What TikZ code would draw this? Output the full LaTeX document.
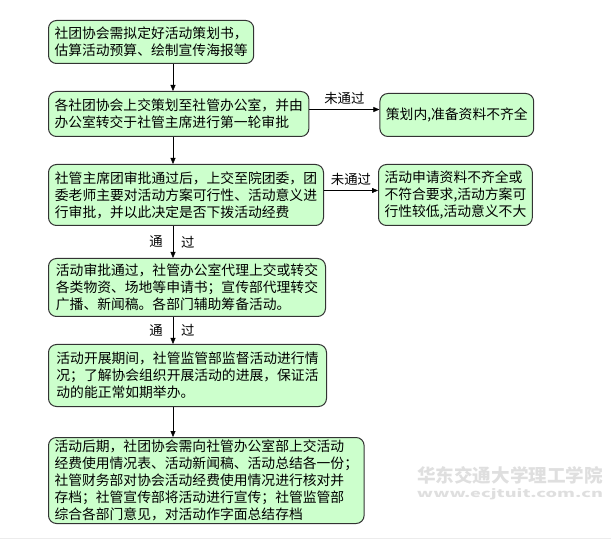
\documentclass[tikz,border=0pt]{standalone}
\usepackage{fontspec}
\setmainfont{Noto Sans CJK SC}
\usetikzlibrary{positioning}
\usetikzlibrary{arrows.meta}

\definecolor{boxgreen}{HTML}{CCFFCC}

\begin{document}
\begin{tikzpicture}[x=1pt, y=1pt,
    >={Triangle[length=6pt,width=5pt]},
    stepbox/.style={draw=black!80, line width=1pt, fill=boxgreen,
    rounded corners=8pt, align=left, inner xsep=6pt, inner ysep=1pt,
    font=\fontsize{13.8}{17}\selectfont},
    lbl/.style={inner sep=1pt, font=\fontsize{13.4}{16}\selectfont},
    wmark/.style={inner sep=0pt, text=gray!25, font=\bfseries},
    ]

    \useasboundingbox (0,0) rectangle (611,-540);

    % main column
    \node[stepbox, anchor=north west, minimum width=205pt, minimum height=43pt] (b1) at (48,-20)
        {社团协会需拟定好活动策划书，\\估算活动预算、绘制宣传海报等};
    \node[stepbox, below=27pt of b1.south west, anchor=north west, minimum width=259pt, minimum height=45pt] (b2)
        {各社团协会上交策划至社管办公室，并由\\办公室转交于社管主席进行第一轮审批};
    \node[stepbox, below=27pt of b2.south west, anchor=north west, minimum width=275pt, minimum height=61pt] (b5)
        {社管主席团审批通过后，上交至院团委，团\\委老师主要对活动方案可行性、活动意义进\\行审批，并以此决定是否下拨活动经费};
    \node[stepbox, below=32pt of b5.south west, anchor=north west, minimum width=277pt, minimum height=58pt] (b6)
        {活动审批通过，社管办公室代理上交或转交\\各类物资、场地等申请书；宣传部代理转交\\广播、新闻稿。各部门辅助筹备活动。};
    \node[stepbox, below=27pt of b6.south west, anchor=north west, minimum width=278pt, minimum height=62pt] (b7)
        {活动开展期间，社管监管部监督活动进行情\\况；了解协会组织开展活动的进展，保证活\\动的能正常如期举办。};
    \node[stepbox, below=30pt of b7.south west, anchor=north west, minimum width=307pt, minimum height=86pt] (b8)
        {活动后期，社团协会需向社管办公室部上交活动\\经费使用情况表、活动新闻稿、活动总结各一份；\\社管财务部对协会活动经费使用情况进行核对并\\存档；社管宣传部将活动进行宣传；社管监管部\\综合各部门意见，对活动作字面总结存档};

    % rejected branches
    \node[stepbox, right=70pt of b2.north east, anchor=north west, yshift=-2pt, minimum width=153pt, minimum height=43pt] (b3)
        {策划内,准备资料不齐全};
    \node[stepbox, right=54pt of b5.north east, anchor=north west, minimum width=153pt, minimum height=61pt] (b4)
        {活动申请资料不齐全或\\不符合要求,活动方案可\\行性较低,活动意义不大};

    \coordinate (axis) at (173,0);

    \draw[->] (b1.south -| axis) -- (b2.north -| axis);
    \draw[->] (b2.south -| axis) -- (b5.north -| axis);
    \draw[->] (b5.south -| axis) -- (b6.north -| axis)
        node[lbl, midway, left=9pt] {通} node[lbl, midway, right=7pt] {过};
    \draw[->] (b6.south -| axis) -- (b7.north -| axis)
        node[lbl, midway, left=9pt] {通} node[lbl, midway, right=7pt] {过};
    \draw[->] (b7.south -| axis) -- (b8.north -| axis);

    \draw[->] ([yshift=4.5pt]b2.east) -- ([yshift=4.5pt]b2.east -| b3.west)
        node[lbl, midway, above=4pt] {未通过};
    \draw[->] ([yshift=4.5pt]b5.east) -- ([yshift=4.5pt]b5.east -| b4.west)
        node[lbl, midway, above=4pt] {未通过};

    % watermark
    \node[wmark] (wm1) at (510,-475) {\resizebox{186pt}{16pt}{华东交通大学理工学院}};
    \node[wmark, below=4pt of wm1] (wm2) {\resizebox{186pt}{9pt}{www.ecjtuit.com.cn}};
    \draw[gray!15] (0,-538.5) -- (611,-538.5);
\end{tikzpicture}
\end{document}
